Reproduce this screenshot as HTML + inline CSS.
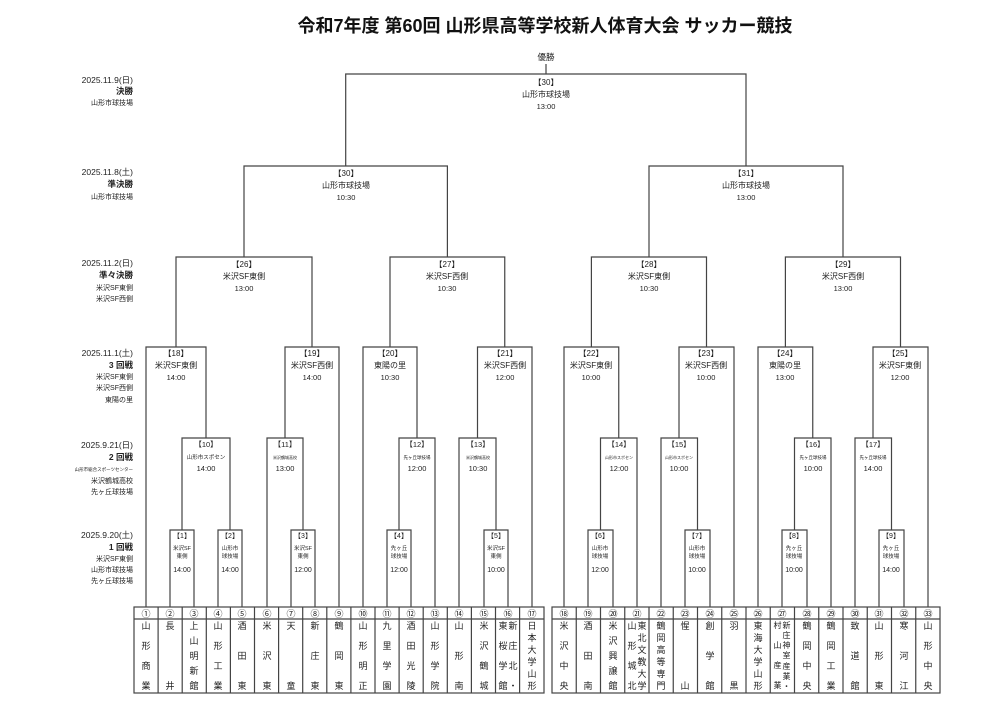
<!DOCTYPE html>
<html><head><meta charset="utf-8"><style>
body{margin:0;background:#fff;width:1000px;height:709px;overflow:hidden;position:relative;font-family:"Liberation Sans","Noto Sans CJK JP",sans-serif;color:#222}
.c{position:absolute;top:621px;height:70px;display:flex;justify-content:center;gap:1px}
.col{display:flex;flex-direction:column;justify-content:space-between;font-size:9px;line-height:10px;align-items:center}
</style></head><body>
<svg width="1000" height="709" style="position:absolute;left:0;top:0" font-family="Liberation Sans, Noto Sans CJK JP, sans-serif">
<text x="545" y="32" font-size="18" font-weight="bold" text-anchor="middle" fill="#111">令和7年度 第60回 山形県高等学校新人体育大会 サッカー競技</text>
<g fill="none" stroke="#444" stroke-width="1.2">
<path d="M170,607V530H194V607M218,607V530H242V607M291,607V530H315V607M387,607V530H411V607M484,607V530H508V607M588,607V530H613V607M685,607V530H710V607M782,607V530H807V607M879,607V530H904V607"/>
<path d="M182,530V438H230V530M267,607V438H303V530M399,530V438H435V607M459,607V438H496V530M600.5,530V438H637V607M661,607V438H697.5V530M794.5,530V438H831V607M855,607V438H891.5V530"/>
<path d="M146,607V347H206V438M285,438V347H339V607M363,607V347H417V438M477.5,438V347H532V607M564,607V347H618.75V438M679,438V347H734V607M758,607V347H812.75V438M873,438V347H928V607"/>
<path d="M176,347V257H312V347M390,347V257H504.75V347M591.4,347V257H706.5V347M785.4,347V257H900.5V347"/>
<path d="M244,257V166H447.4V257M649,257V166H843V257M345.7,166V74H746V166M546,74V64"/>
<rect x="134" y="607" width="410" height="86"/><line x1="134" y1="619" x2="544" y2="619"/>
<rect x="552" y="607" width="388" height="86"/><line x1="552" y1="619" x2="940" y2="619"/>
<path d="M158.1,607V693M182.2,607V693M206.3,607V693M230.4,607V693M254.5,607V693M278.6,607V693M302.7,607V693M326.8,607V693M350.9,607V693M375,607V693M399.1,607V693M423.2,607V693M447.3,607V693M471.4,607V693M495.5,607V693M519.6,607V693"/>
<path d="M576.25,607V693M600.5,607V693M624.75,607V693M649,607V693M673.25,607V693M697.5,607V693M721.75,607V693M746,607V693M770.25,607V693M794.5,607V693M818.75,607V693M843,607V693M867.25,607V693M891.5,607V693M915.75,607V693"/>
</g>
<g font-size="8.5" text-anchor="end" fill="#222">
<text x="133" y="83">2025.11.9(日)</text><text x="133" y="94" font-weight="bold">決勝</text><text x="133" y="105" font-size="7">山形市球技場</text>
<text x="133" y="175">2025.11.8(土)</text><text x="133" y="187" font-weight="bold">準決勝</text><text x="133" y="199" font-size="7">山形市球技場</text>
<text x="133" y="266">2025.11.2(日)</text><text x="133" y="278" font-weight="bold">準々決勝</text><text x="133" y="290" font-size="7">米沢SF東側</text><text x="133" y="301" font-size="7">米沢SF西側</text>
<text x="133" y="356">2025.11.1(土)</text><text x="133" y="368" font-weight="bold">3 回戦</text><text x="133" y="379" font-size="7">米沢SF東側</text><text x="133" y="390" font-size="7">米沢SF西側</text><text x="133" y="402" font-size="7">東陽の里</text>
<text x="133" y="448">2025.9.21(日)</text><text x="133" y="460" font-weight="bold">2 回戦</text><text x="133" y="471" font-size="4.5">山形市総合スポーツセンター</text><text x="133" y="483" font-size="7">米沢鶴城高校</text><text x="133" y="494" font-size="7">先ヶ丘球技場</text>
<text x="133" y="538">2025.9.20(土)</text><text x="133" y="550" font-weight="bold">1 回戦</text><text x="133" y="561" font-size="7">米沢SF東側</text><text x="133" y="572" font-size="7">山形市球技場</text><text x="133" y="583" font-size="7">先ヶ丘球技場</text>
</g>
<g text-anchor="middle" fill="#222" font-size="8">
<text x="546" y="60" font-size="8.5">優勝</text>
<text x="546" y="85">【30】</text><text x="546" y="97">山形市球技場</text><text x="546" y="109" font-size="7.5">13:00</text>
<text x="346" y="176">【30】</text><text x="346" y="188">山形市球技場</text><text x="346" y="200" font-size="7.5">10:30</text>
<text x="746" y="176">【31】</text><text x="746" y="188">山形市球技場</text><text x="746" y="200" font-size="7.5">13:00</text>
<text x="244" y="267">【26】</text><text x="244" y="279">米沢SF東側</text><text x="244" y="291" font-size="7.5">13:00</text>
<text x="447" y="267">【27】</text><text x="447" y="279">米沢SF西側</text><text x="447" y="291" font-size="7.5">10:30</text>
<text x="649" y="267">【28】</text><text x="649" y="279">米沢SF東側</text><text x="649" y="291" font-size="7.5">10:30</text>
<text x="843" y="267">【29】</text><text x="843" y="279">米沢SF西側</text><text x="843" y="291" font-size="7.5">13:00</text>
<text x="176" y="356">【18】</text><text x="176" y="368">米沢SF東側</text><text x="176" y="380" font-size="7.5">14:00</text>
<text x="312" y="356">【19】</text><text x="312" y="368">米沢SF西側</text><text x="312" y="380" font-size="7.5">14:00</text>
<text x="390" y="356">【20】</text><text x="390" y="368">東陽の里</text><text x="390" y="380" font-size="7.5">10:30</text>
<text x="505" y="356">【21】</text><text x="505" y="368">米沢SF西側</text><text x="505" y="380" font-size="7.5">12:00</text>
<text x="591" y="356">【22】</text><text x="591" y="368">米沢SF東側</text><text x="591" y="380" font-size="7.5">10:00</text>
<text x="706" y="356">【23】</text><text x="706" y="368">米沢SF西側</text><text x="706" y="380" font-size="7.5">10:00</text>
<text x="785" y="356">【24】</text><text x="785" y="368">東陽の里</text><text x="785" y="380" font-size="7.5">13:00</text>
<text x="900" y="356">【25】</text><text x="900" y="368">米沢SF東側</text><text x="900" y="380" font-size="7.5">12:00</text>
</g>
<g text-anchor="middle" fill="#222" font-size="7.5">
<text x="206" y="447">【10】</text><text x="206" y="459" font-size="5.5">山形市スポセン</text><text x="206" y="471">14:00</text>
<text x="285" y="447">【11】</text><text x="285" y="459" font-size="4">米沢鶴城高校</text><text x="285" y="471">13:00</text>
<text x="417" y="447">【12】</text><text x="417" y="459" font-size="4.5">先ヶ丘球技場</text><text x="417" y="471">12:00</text>
<text x="478" y="447">【13】</text><text x="478" y="459" font-size="4">米沢鶴城高校</text><text x="478" y="471">10:30</text>
<text x="619" y="447">【14】</text><text x="619" y="459" font-size="4">山形市スポセン</text><text x="619" y="471">12:00</text>
<text x="679" y="447">【15】</text><text x="679" y="459" font-size="4">山形市スポセン</text><text x="679" y="471">10:00</text>
<text x="813" y="447">【16】</text><text x="813" y="459" font-size="4.5">先ヶ丘球技場</text><text x="813" y="471">10:00</text>
<text x="873" y="447">【17】</text><text x="873" y="459" font-size="4.5">先ヶ丘球技場</text><text x="873" y="471">14:00</text>
</g>
<g text-anchor="middle" fill="#222" font-size="7">
<text x="182" y="538">【1】</text><text x="182" y="550" font-size="5.5">米沢SF</text><text x="182" y="558" font-size="5.5">東側</text><text x="182" y="572">14:00</text>
<text x="230" y="538">【2】</text><text x="230" y="550" font-size="5.5">山形市</text><text x="230" y="558" font-size="5.5">球技場</text><text x="230" y="572">14:00</text>
<text x="303" y="538">【3】</text><text x="303" y="550" font-size="5.5">米沢SF</text><text x="303" y="558" font-size="5.5">東側</text><text x="303" y="572">12:00</text>
<text x="399" y="538">【4】</text><text x="399" y="550" font-size="5.5">先ヶ丘</text><text x="399" y="558" font-size="5.5">球技場</text><text x="399" y="572">12:00</text>
<text x="496" y="538">【5】</text><text x="496" y="550" font-size="5.5">米沢SF</text><text x="496" y="558" font-size="5.5">東側</text><text x="496" y="572">10:00</text>
<text x="600" y="538">【6】</text><text x="600" y="550" font-size="5.5">山形市</text><text x="600" y="558" font-size="5.5">球技場</text><text x="600" y="572">12:00</text>
<text x="697" y="538">【7】</text><text x="697" y="550" font-size="5.5">山形市</text><text x="697" y="558" font-size="5.5">球技場</text><text x="697" y="572">10:00</text>
<text x="794" y="538">【8】</text><text x="794" y="550" font-size="5.5">先ヶ丘</text><text x="794" y="558" font-size="5.5">球技場</text><text x="794" y="572">10:00</text>
<text x="891" y="538">【9】</text><text x="891" y="550" font-size="5.5">先ヶ丘</text><text x="891" y="558" font-size="5.5">球技場</text><text x="891" y="572">14:00</text>
</g>
<g text-anchor="middle" fill="#222" font-size="9">
<text x="146" y="617">①</text><text x="170" y="617">②</text><text x="194" y="617">③</text><text x="218" y="617">④</text><text x="242" y="617">⑤</text><text x="267" y="617">⑥</text><text x="291" y="617">⑦</text><text x="315" y="617">⑧</text><text x="339" y="617">⑨</text><text x="363" y="617">⑩</text><text x="387" y="617">⑪</text><text x="411" y="617">⑫</text><text x="435" y="617">⑬</text><text x="459" y="617">⑭</text><text x="484" y="617">⑮</text><text x="508" y="617">⑯</text><text x="532" y="617">⑰</text>
<text x="564" y="617">⑱</text><text x="588" y="617">⑲</text><text x="613" y="617">⑳</text><text x="637" y="617">㉑</text><text x="661" y="617">㉒</text><text x="685" y="617">㉓</text><text x="710" y="617">㉔</text><text x="734" y="617">㉕</text><text x="758" y="617">㉖</text><text x="782" y="617">㉗</text><text x="807" y="617">㉘</text><text x="831" y="617">㉙</text><text x="855" y="617">㉚</text><text x="879" y="617">㉛</text><text x="904" y="617">㉜</text><text x="928" y="617">㉝</text>
</g>
</svg>
<div class="c" style="left:134px;width:24px"><div class="col"><span>山</span><span>形</span><span>商</span><span>業</span></div></div>
<div class="c" style="left:158px;width:24px"><div class="col"><span>長</span><span>井</span></div></div>
<div class="c" style="left:182px;width:24px"><div class="col"><span>上</span><span>山</span><span>明</span><span>新</span><span>館</span></div></div>
<div class="c" style="left:206px;width:24px"><div class="col"><span>山</span><span>形</span><span>工</span><span>業</span></div></div>
<div class="c" style="left:230px;width:24px"><div class="col"><span>酒</span><span>田</span><span>東</span></div></div>
<div class="c" style="left:255px;width:24px"><div class="col"><span>米</span><span>沢</span><span>東</span></div></div>
<div class="c" style="left:279px;width:24px"><div class="col"><span>天</span><span>童</span></div></div>
<div class="c" style="left:303px;width:24px"><div class="col"><span>新</span><span>庄</span><span>東</span></div></div>
<div class="c" style="left:327px;width:24px"><div class="col"><span>鶴</span><span>岡</span><span>東</span></div></div>
<div class="c" style="left:351px;width:24px"><div class="col"><span>山</span><span>形</span><span>明</span><span>正</span></div></div>
<div class="c" style="left:375px;width:24px"><div class="col"><span>九</span><span>里</span><span>学</span><span>園</span></div></div>
<div class="c" style="left:399px;width:24px"><div class="col"><span>酒</span><span>田</span><span>光</span><span>陵</span></div></div>
<div class="c" style="left:423px;width:24px"><div class="col"><span>山</span><span>形</span><span>学</span><span>院</span></div></div>
<div class="c" style="left:447px;width:24px"><div class="col"><span>山</span><span>形</span><span>南</span></div></div>
<div class="c" style="left:472px;width:24px"><div class="col"><span>米</span><span>沢</span><span>鶴</span><span>城</span></div></div>
<div class="c" style="left:496px;width:24px"><div class="col"><span>東</span><span>桜</span><span>学</span><span>館</span></div><div class="col"><span>新</span><span>庄</span><span>北</span><span>・</span></div></div>
<div class="c" style="left:520px;width:24px"><div class="col"><span>日</span><span>本</span><span>大</span><span>学</span><span>山</span><span>形</span></div></div>
<div class="c" style="left:552px;width:24px"><div class="col"><span>米</span><span>沢</span><span>中</span><span>央</span></div></div>
<div class="c" style="left:576px;width:24px"><div class="col"><span>酒</span><span>田</span><span>南</span></div></div>
<div class="c" style="left:601px;width:24px"><div class="col"><span>米</span><span>沢</span><span>興</span><span>譲</span><span>館</span></div></div>
<div class="c" style="left:625px;width:24px"><div class="col"><span>山</span><span>形</span><span>城</span><span>北</span></div><div class="col"><span>東</span><span>北</span><span>文</span><span>教</span><span>大</span><span>学</span></div></div>
<div class="c" style="left:649px;width:24px"><div class="col"><span>鶴</span><span>岡</span><span>高</span><span>等</span><span>専</span><span>門</span></div></div>
<div class="c" style="left:673px;width:24px"><div class="col"><span>惺</span><span>山</span></div></div>
<div class="c" style="left:698px;width:24px"><div class="col"><span>創</span><span>学</span><span>館</span></div></div>
<div class="c" style="left:722px;width:24px"><div class="col"><span>羽</span><span>黒</span></div></div>
<div class="c" style="left:746px;width:24px"><div class="col"><span>東</span><span>海</span><span>大</span><span>学</span><span>山</span><span>形</span></div></div>
<div class="c" style="left:770px;width:24px"><div class="col" style="font-size:8px"><span>村</span><span>山</span><span>産</span><span>業</span></div><div class="col" style="font-size:8px;line-height:9px"><span>新</span><span>庄</span><span>神</span><span>室</span><span>産</span><span>業</span><span>・</span></div></div>
<div class="c" style="left:795px;width:24px"><div class="col"><span>鶴</span><span>岡</span><span>中</span><span>央</span></div></div>
<div class="c" style="left:819px;width:24px"><div class="col"><span>鶴</span><span>岡</span><span>工</span><span>業</span></div></div>
<div class="c" style="left:843px;width:24px"><div class="col"><span>致</span><span>道</span><span>館</span></div></div>
<div class="c" style="left:867px;width:24px"><div class="col"><span>山</span><span>形</span><span>東</span></div></div>
<div class="c" style="left:892px;width:24px"><div class="col"><span>寒</span><span>河</span><span>江</span></div></div>
<div class="c" style="left:916px;width:24px"><div class="col"><span>山</span><span>形</span><span>中</span><span>央</span></div></div>
</body></html>
